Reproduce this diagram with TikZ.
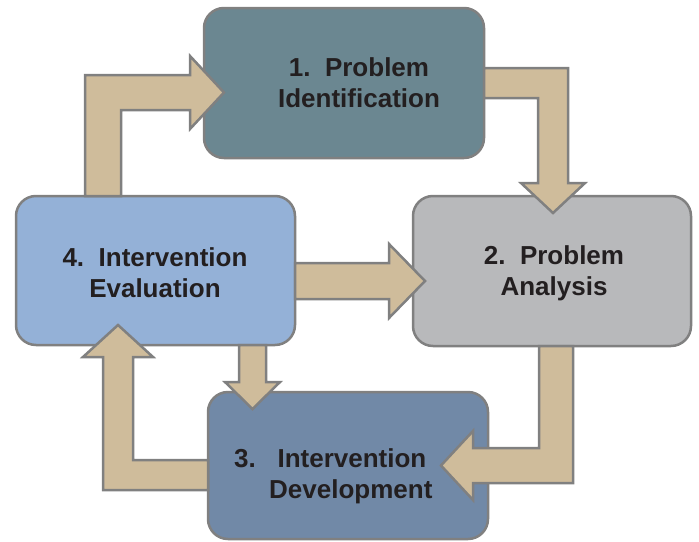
\documentclass[tikz,border=0pt]{standalone}
\usepackage{fontspec}
\setmainfont{Liberation Sans}
\definecolor{bordergray}{HTML}{808080}
\definecolor{cA}{HTML}{6B8791}
\definecolor{cB}{HTML}{B8B9BB}
\definecolor{cC}{HTML}{7189A7}
\definecolor{cD}{HTML}{94B1D7}
\definecolor{arrowfill}{HTML}{CFBC9B}
\definecolor{txt}{HTML}{231F20}
\begin{document}
\begin{tikzpicture}[x=1pt,y=-1pt,
  box/.style={draw=bordergray, line width=2.5pt, rounded corners=20pt, rectangle, inner sep=0pt},
  lbl/.style={font=\bfseries\fontsize{26}{31}\selectfont, text=txt, align=center, inner sep=0pt},
  blockarrow/.style={draw=bordergray, fill=arrowfill, line width=2.5pt, line join=miter}]
\useasboundingbox (0,0) rectangle (699,541);
% boxes
\node[box, fill=cA, minimum width=280pt, minimum height=150pt] (b1) at (344,83) {};
\node[box, fill=cB, minimum width=278pt, minimum height=150pt] (b2) at (552,271) {};
\node[box, fill=cC, minimum width=280pt, minimum height=147pt] (b3) at (348,465.5) {};
\node[box, fill=cD, minimum width=279pt, minimum height=149pt] (b4) at (155.5,270.5) {};
% labels
\node[lbl] (t1) at (359,83) {1.\ \ Problem\\Identification};
\node[lbl] (t2) at (554,273.5) {2.\ \ Problem\\Analysis};
\node[lbl] (t4) at (155,273) {4.\ \ Intervention\\Evaluation};
\node[lbl, align=left, anchor=west] (t3) at (234,476) {3.\ \ \ Intervention\\\hspace*{35pt}Development};
% block arrows
\draw[blockarrow] (85,196) -- (85,75) -- (190,75) -- (190,56) -- (224,92.5) -- (190,129) -- (190,110) -- (121,110) -- (121,196) -- cycle;
\draw[blockarrow] (484,68) -- (568,68) -- (568,183) -- (585,183) -- (553,213) -- (521,183) -- (538,183) -- (538,98) -- (484,98) -- cycle;
\draw[blockarrow] (295,263) -- (389,263) -- (389,244) -- (425,281) -- (389,318) -- (389,299) -- (295,299) -- cycle;
\draw[blockarrow] (539,346) -- (573,346) -- (573,483) -- (473,483) -- (473,500) -- (441,465.5) -- (473,431) -- (473,448) -- (539,448) -- cycle;
\draw[blockarrow] (239,345) -- (266,345) -- (266,382) -- (280,382) -- (252.5,409) -- (225,382) -- (239,382) -- cycle;
\draw[blockarrow] (208,460) -- (133,460) -- (133,357) -- (153,357) -- (118,325) -- (83,357) -- (103,357) -- (103,490) -- (208,490) -- cycle;
\end{tikzpicture}
\end{document}
